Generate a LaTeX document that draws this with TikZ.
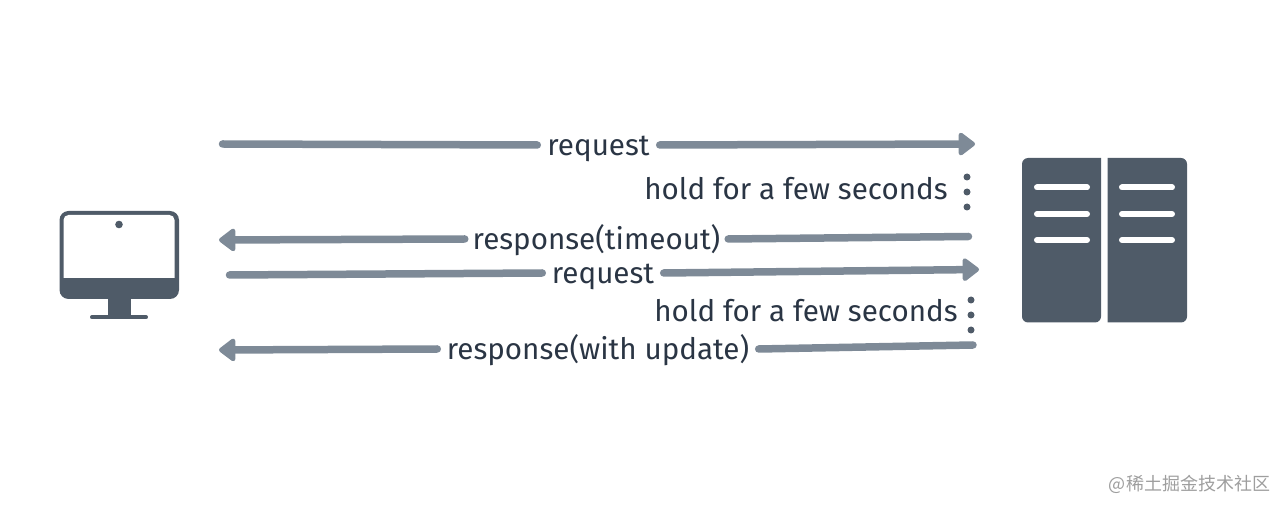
\documentclass[tikz,border=0pt]{standalone}
\usepackage{fontspec}
\setmainfont{Fira Sans}
\newfontfamily\cjk{Noto Sans CJK SC}
\usetikzlibrary{arrows.meta}
\definecolor{icongray}{HTML}{4F5B68}
\definecolor{arrowgray}{HTML}{7E8A97}
\definecolor{textdark}{HTML}{2A3544}
\tikzset{
    msg/.style={inner sep=0pt,text=textdark,font=\fontsize{29.6}{30}\selectfont,text height=24pt,text depth=2pt},
    flow/.style={draw=arrowgray,line width=7.5pt,line cap=round},
    flowtip/.style={flow,-{Triangle[length=18pt,width=26pt,round]}},
    holddot/.style={circle,fill=icongray,inner sep=0pt,minimum size=7pt},
    slot/.style={draw=white,line width=6pt,line cap=round}
}
\begin{document}
\begin{tikzpicture}[x=1pt,y=-1pt]
    \useasboundingbox (0,0) rectangle (1286,510);

    % client
    \fill[icongray,rounded corners=9pt] (59.5,211) rectangle (179,299);
    \fill[white] (63.5,278) [rounded corners=5pt] -- (63.5,215) -- (174.5,215) [sharp corners] -- (174.5,278) -- cycle;
    \fill[icongray] (119,224.5) circle [radius=3.8];
    \fill[icongray] (107.5,298) rectangle (130.5,316);
    \draw[icongray,line width=4pt,line cap=round] (92,317.3) -- (146,317.3);

    % server
    \fill[icongray,rounded corners=6pt] (1022,158) -- (1022,322.5) -- (1101,322.5) [sharp corners] -- (1101,158) [rounded corners=6pt] -- cycle;
    \fill[icongray,rounded corners=6pt] (1107.5,158) [sharp corners] -- (1107.5,322.5) [rounded corners=6pt] -- (1187,322.5) -- (1187,158) [sharp corners] -- cycle;
    \foreach \y in {187.5,214,240}{
        \draw[slot] (1037,\y) -- (1087,\y);
        \draw[slot] (1122,\y) -- (1172,\y);
    }

    % labels
    \node[msg,minimum width=122pt] (req1) at (598.5,145) {request};
    \node[msg] (hold1) at (796,189) {hold for a few seconds};
    \node[msg,minimum width=263pt] (resp1) at (596.5,239) {response(timeout)};
    \node[msg,minimum width=121pt] (req2) at (603,273) {request};
    \node[msg] (hold2) at (806,311) {hold for a few seconds};
    \node[msg,minimum width=321pt] (resp2) at (598,349) {response(with update)};

    % free ends
    \coordinate (req1a) at (222.5,144);
    \coordinate (req1b) at (975,144);
    \coordinate (resp1a) at (968.5,236.5);
    \coordinate (resp1b) at (219,240);
    \coordinate (req2a) at (229.5,275);
    \coordinate (req2b) at (979,269.5);
    \coordinate (resp2a) at (973,345);
    \coordinate (resp2b) at (219,350);

    \draw[flow] (req1a) -- (req1.west);
    \draw[flowtip] (req1.east) -- (req1b);
    \draw[flow] (resp1a) -- (resp1.east);
    \draw[flowtip] (resp1.west) -- (resp1b);
    \draw[flow] (req2a) -- (req2.west);
    \draw[flowtip] (req2.east) -- (req2b);
    \draw[flow] (resp2a) -- (resp2.east);
    \draw[flowtip] (resp2.west) -- (resp2b);

    % waiting dots
    \foreach \i/\y in {1/177,2/192,3/207}
        \node[holddot] (dota\i) at (967,\y) {};
    \foreach \i/\y in {1/300,2/315,3/330}
        \node[holddot] (dotb\i) at (971,\y) {};

    \node[inner sep=0pt,text=black!38,font=\cjk\fontsize{18}{18}\selectfont] (mark) at (1189.5,484) {@稀土掘金技术社区};
\end{tikzpicture}
\end{document}
